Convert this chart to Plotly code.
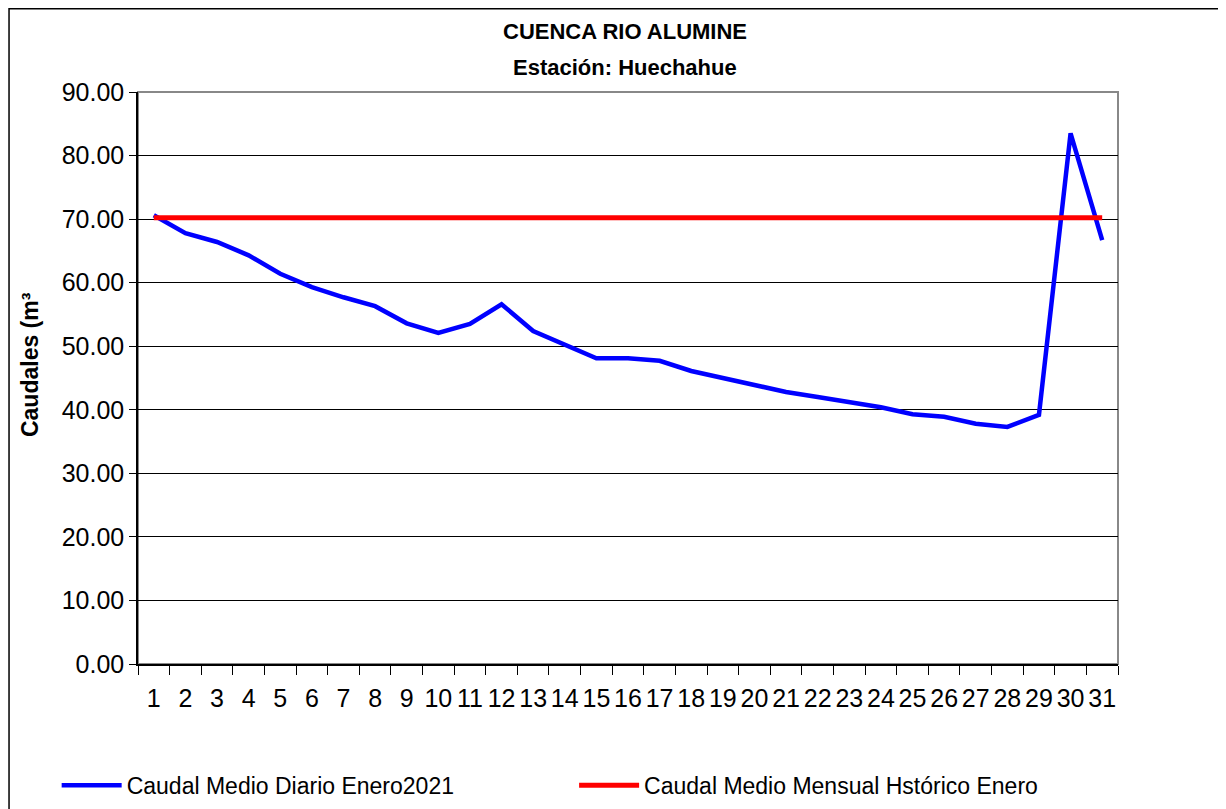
import plotly.graph_objects as go

# Datos
dias = [str(d) for d in range(1, 32)]
caudal_diario = [70.6, 67.8, 66.4, 64.3, 61.4, 59.3, 57.7, 56.3, 53.6, 52.1,
                 53.5, 56.6, 52.4, 50.2, 48.1, 48.1, 47.7, 46.1, 45.0, 43.9,
                 42.8, 42.0, 41.2, 40.4, 39.3, 38.9, 37.8, 37.3, 39.2, 83.5, 66.7]
caudal_historico = [70.2] * 31
y_ticks = [0, 10, 20, 30, 40, 50, 60, 70, 80, 90]

FONT = "Liberation Sans, Arial, sans-serif"

fig = go.Figure()

fig.add_trace(go.Scatter(
    x=dias, y=caudal_diario, mode='lines',
    line=dict(color='#0000FF', width=4.5),
    name='Caudal Medio Diario Enero2021', legend='legend'
))
fig.add_trace(go.Scatter(
    x=dias, y=caudal_historico, mode='lines',
    line=dict(color='#FF0000', width=5),
    name='Caudal Medio Mensual Hstórico Enero', legend='legend2'
))

# borde del area de trazado (gris) y borde exterior (negro)
fig.add_shape(type='rect', xref='paper', yref='paper', x0=0, x1=1, y0=0, y1=1,
              line=dict(color='#888888', width=2), layer='below')
fig.add_shape(type='rect', xref='paper', yref='paper',
              x0=-0.1316, x1=1.103, y0=-0.30, y1=1.1455,
              line=dict(color='black', width=1.5))

# titulos
fig.add_annotation(text='<b>CUENCA RIO ALUMINE</b>', xref='paper', yref='paper',
                   x=0.497, y=1.105, showarrow=False, yanchor='middle',
                   font=dict(family=FONT, size=22, color='black'))
fig.add_annotation(text='<b>Estación: Huechahue</b>', xref='paper', yref='paper',
                   x=0.497, y=1.042, showarrow=False, yanchor='middle',
                   font=dict(family=FONT, size=22, color='black'))
fig.add_annotation(
    text='<b>Caudales (m³</b>', textangle=-90, xref='paper', yref='paper',
    x=-0.110, y=0.523, showarrow=False, xanchor='center', yanchor='middle',
    font=dict(family=FONT, size=23, color='black')
)

legend_style = dict(orientation='h', yanchor='middle', y=-0.212,
                    font=dict(size=23), itemwidth=60,
                    bgcolor='rgba(0,0,0,0)')

# la pagina deja 8px de margen alrededor del grafico
fig.update_layout(
    width=1218, height=801,
    margin=dict(l=130, r=108, t=84, b=145, autoexpand=False),
    paper_bgcolor='white', plot_bgcolor='white',
    font=dict(family=FONT, color='black'),
    xaxis=dict(
        type='category', range=[-0.5, 30.5], tickangle=0, automargin=False,
        tickson='boundaries', ticks='outside', ticklen=9, tickcolor='black',
        showline=True, linecolor='black', linewidth=1.5,
        showgrid=False, tickfont=dict(size=25), ticklabelstandoff=11
    ),
    yaxis=dict(
        range=[0, 90], tickvals=y_ticks, tickformat='.2f', automargin=False,
        ticks='outside', ticklen=7, tickcolor='black',
        showline=True, linecolor='black', linewidth=1.5,
        showgrid=True, gridcolor='black', gridwidth=1,
        tickfont=dict(size=25), zeroline=False
    ),
    legend=dict(x=-0.083, xanchor='left', **legend_style),
    legend2=dict(x=0.445, xanchor='left', **legend_style),
    showlegend=True
)

fig.write_html("out.html")
